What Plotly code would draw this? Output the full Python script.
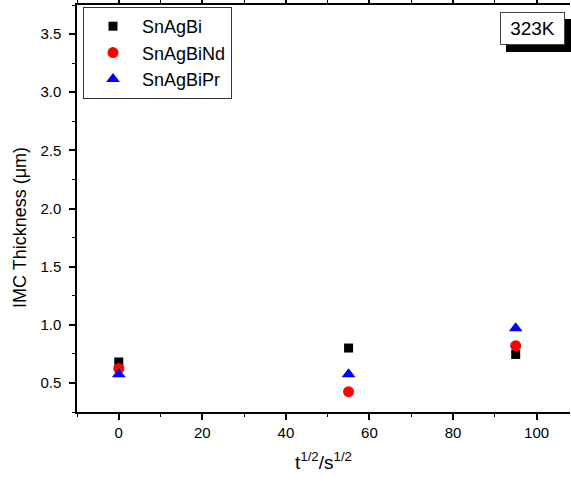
import plotly.graph_objects as go

x_vals = [0, 55, 95]
snagbi = [0.68, 0.80, 0.745]
snagbind = [0.625, 0.425, 0.82]
snagbipr = [0.575, 0.575, 0.97]
series_names = ["SnAgBi", "SnAgBiNd", "SnAgBiPr"]

FONT = "Arial, Liberation Sans, sans-serif"

fig = go.Figure()
fig.add_trace(go.Scatter(x=x_vals, y=snagbi, mode="markers", name=series_names[0],
                         marker=dict(symbol="square", size=9, color="black")))
fig.add_trace(go.Scatter(x=x_vals, y=snagbind, mode="markers", name=series_names[1],
                         marker=dict(symbol="circle", size=11, color="red")))
fig.add_trace(go.Scatter(x=x_vals, y=snagbipr, mode="markers", name=series_names[2],
                         marker=dict(symbol="triangle-up", size=12, color="blue")))

L, R, T, B = 77, 1, 5, 70
W, H = 571, 482
pw, ph = W - L - R, H - T - B

def px(xp):
    return (xp - L) / pw

def py(yp):
    return (H - B - yp) / ph

# shadow of the temperature label (drawn first, offset down-right)
fig.add_annotation(xref="paper", yref="paper", x=px(538), y=py(35),
                   text=" ", showarrow=False,
                   font=dict(family=FONT, size=19, color="black"),
                   bgcolor="black", bordercolor="black", borderwidth=1,
                   borderpad=3, width=57, height=25,
                   xanchor="center", yanchor="middle")
fig.add_annotation(xref="paper", yref="paper", x=px(532), y=py(28.5),
                   text="323K", showarrow=False,
                   font=dict(family=FONT, size=19, color="black"),
                   bgcolor="white", bordercolor="#444", borderwidth=1,
                   borderpad=3, width=57, height=25,
                   xanchor="center", yanchor="middle")

# y-axis title placed as annotation (sits below centre in the reference)
fig.add_annotation(xref="paper", yref="paper", x=px(20), y=py(228),
                   text="IMC Thickness (μm)", showarrow=False, textangle=-90,
                   font=dict(family=FONT, size=18, color="black"),
                   xanchor="center", yanchor="middle")

fig.update_layout(
    width=W, height=H,
    margin=dict(l=L, r=R, t=T, b=B, autoexpand=False),
    paper_bgcolor="white", plot_bgcolor="rgba(0,0,0,0)",
    font=dict(family=FONT, size=15, color="black"),
    showlegend=True,
    legend=dict(x=px(83), y=py(7), xanchor="left", yanchor="top",
                bgcolor="white", bordercolor="#333", borderwidth=1,
                font=dict(family=FONT, size=18, color="black"),
                itemwidth=48, tracegroupgap=0),
    xaxis=dict(range=[-10, 108], tickvals=[0, 20, 40, 60, 80, 100],
               automargin=False,
               showgrid=False, zeroline=False,
               showline=True, linecolor="black", linewidth=1.5, mirror="ticks",
               ticks="outside", ticklen=6, tickwidth=1.5, tickcolor="black",
               minor=dict(dtick=10, tick0=0, ticks="outside", ticklen=3, tickcolor="black", tickwidth=1.2),
               tickfont=dict(family=FONT, size=15),
               title=dict(text="t<sup>1/2</sup>/s<sup>1/2</sup>",
                          font=dict(family=FONT, size=19), standoff=16)),
    yaxis=dict(range=[0.25, 3.75], tickvals=[0.5, 1.0, 1.5, 2.0, 2.5, 3.0, 3.5],
               ticktext=["0.5", "1.0", "1.5", "2.0", "2.5", "3.0", "3.5"],
               automargin=False,
               showgrid=False, zeroline=False,
               showline=True, linecolor="black", linewidth=1.5, mirror=False,
               ticks="outside", ticklen=6, tickwidth=1.5, tickcolor="black",
               ticklabelstandoff=5,
               minor=dict(dtick=0.25, tick0=0.25, ticks="outside", ticklen=3, tickcolor="black", tickwidth=1.2),
               tickfont=dict(family=FONT, size=15)),
)

fig.write_html("out.html", config={"displayModeBar": False},
               post_script="document.body.style.margin='0';document.body.style.padding='0';")
